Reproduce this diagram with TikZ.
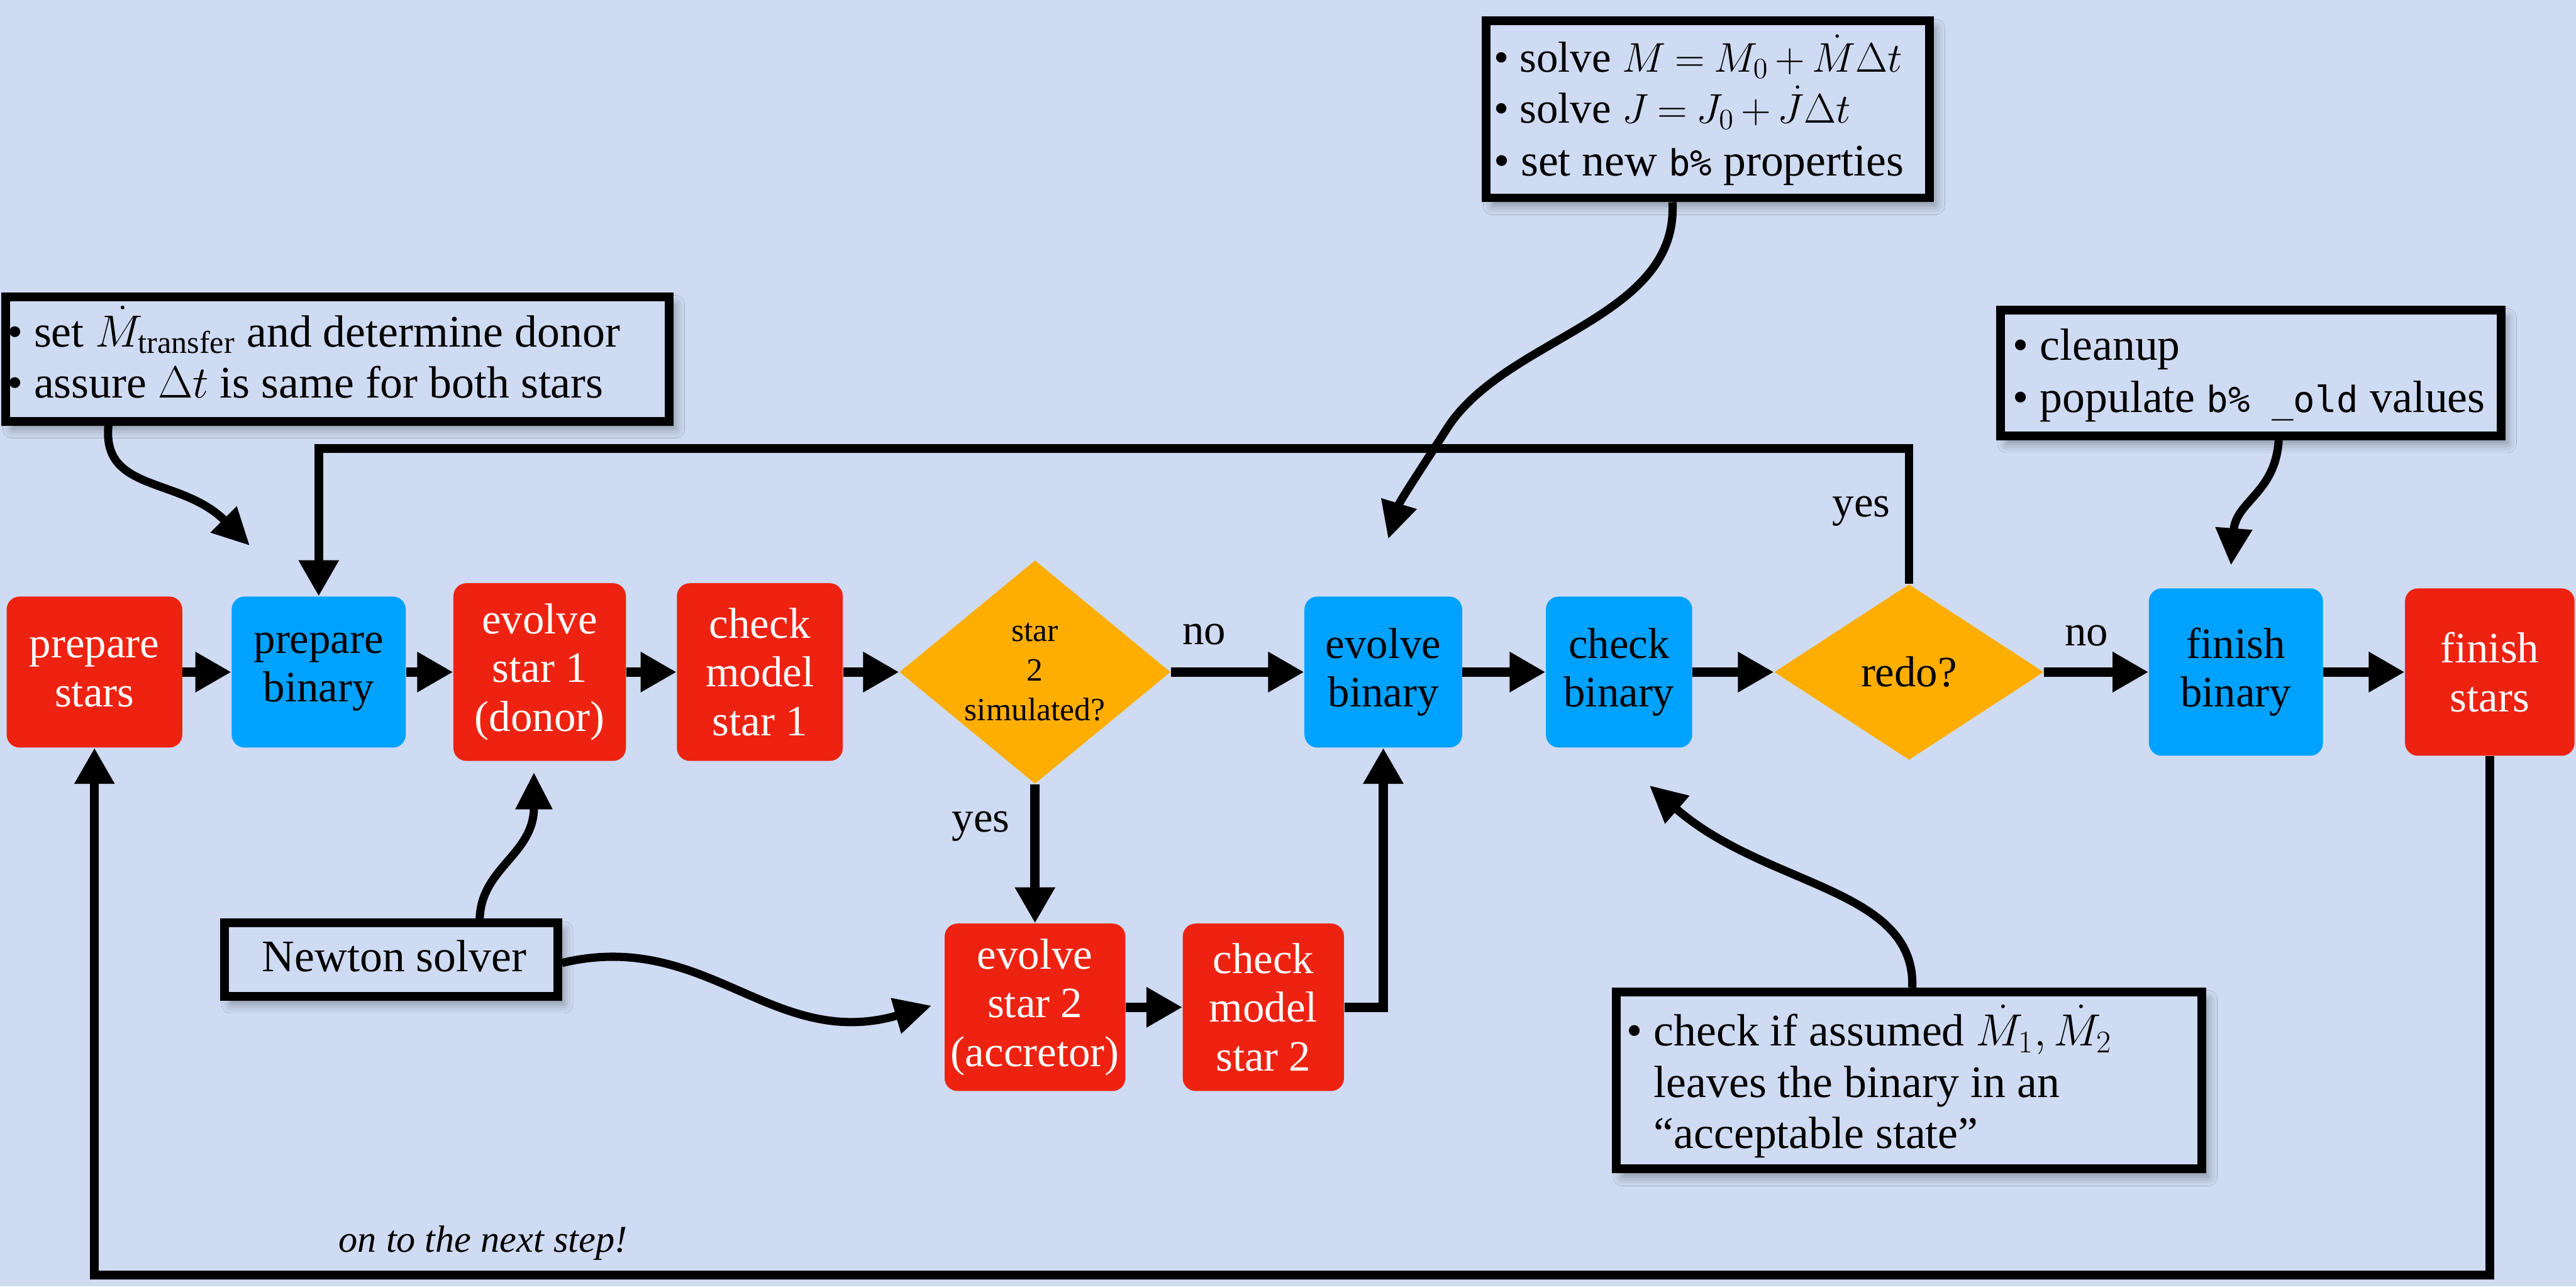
\RequirePackage{fix-cm}
\documentclass[tikz,border=0pt]{standalone}
\usepackage{amsmath}
\usepackage{fontspec}
\setmainfont{Liberation Serif}
\setmonofont[Scale=0.8]{DejaVu Sans Mono}
\usetikzlibrary{arrows.meta,shapes.geometric,shadows.blur,calc}
\definecolor{bg}{RGB}{207,219,242}
\definecolor{fred}{RGB}{238,34,17}
\definecolor{fblue}{RGB}{0,162,255}
\definecolor{forange}{RGB}{255,174,0}
\tikzset{
 flow/.style={rounded corners=0.25cm, inner sep=0pt, align=center, font=\fontsize{24}{27}\selectfont},
 redbox/.style={flow, fill=fred, text=white},
 bluebox/.style={flow, fill=fblue, text=black},
 decision/.style={diamond, fill=forange, inner sep=0pt, aspect=1.2, align=center},
 note/.style={draw=black, line width=0.17cm, fill=bg, inner sep=0pt,
   blur shadow={shadow xshift=0.12cm, shadow yshift=-0.15cm, shadow blur radius=0.18cm, shadow opacity=35}},
 notetext/.style={anchor=base west, inner sep=0pt, font=\fontsize{25}{28}\selectfont},
 lab/.style={inner sep=0pt, font=\fontsize{24}{27}\selectfont},
 arr/.style={line width=0.19cm, -{Triangle[length=0.7cm,width=0.74cm]}},
 loopline/.style={line width=0.17cm, -{Triangle[length=0.7cm,width=0.74cm]}},
 curvearr/.style={line width=0.16cm, -{Triangle[length=0.72cm,width=0.68cm]}},
}
\newcommand{\eqmath}[1]{{\fontsize{23}{28}\selectfont\thickmuskip=4mu\medmuskip=3mu$#1$}}
\begin{document}
\begin{tikzpicture}[x=0.032cm, y=-0.032cm]
\useasboundingbox (0,0) rectangle (1568,783);
\fill[bg] (0,0) rectangle (1568,783);

% flow nodes
\node[redbox, minimum width=3.42cm, minimum height=2.94cm] (ps) at (57.5,409) {prepare\\stars};
\node[bluebox, minimum width=3.39cm, minimum height=2.94cm] (pb) at (194,409) {prepare\\binary};
\node[redbox, minimum width=3.36cm, minimum height=3.46cm] (es1) at (328.5,409) {evolve\\star 1\\(donor)};
\node[redbox, minimum width=3.23cm, minimum height=3.46cm] (cm1) at (462.5,409) {check\\model\\star 1};
\node[decision, minimum width=5.28cm, minimum height=4.35cm, font=\fontsize{18}{22}\selectfont] (d1) at (630,409) {star\\2\\simulated?};
\node[bluebox, minimum width=3.07cm, minimum height=2.94cm] (eb) at (842,409) {evolve\\binary};
\node[bluebox, minimum width=2.85cm, minimum height=2.94cm] (cb) at (985.5,409) {check\\binary};
\node[decision, minimum width=5.25cm, minimum height=3.42cm, font=\fontsize{24}{27}\selectfont] (d2) at (1162,409) {redo?};
\node[bluebox, minimum width=3.39cm, minimum height=3.26cm] (fb) at (1361,409) {finish\\binary};
\node[redbox, minimum width=3.3cm, minimum height=3.26cm] (fs) at (1515.5,409) {finish\\stars};
\node[redbox, minimum width=3.52cm, minimum height=3.26cm] (es2) at (630,613) {evolve\\star 2\\(accretor)};
\node[redbox, minimum width=3.14cm, minimum height=3.26cm] (cm2) at (769,613) {check\\model\\star 2};

% labels
\node[lab] (lno1) at (733,386) {no};
\node[lab] (lyes1) at (597,503) {yes};
\node[lab] (lyes2) at (1133,311) {yes};
\node[lab] (lno2) at (1270,387) {no};
\node[anchor=base west, inner sep=0pt, font=\itshape\fontsize{21}{24}\selectfont] (next) at (206,762) {on to the next step!};

% straight connectors
\draw[arr] (ps.east) -- (pb.west);
\draw[arr] (pb.east) -- (es1.west);
\draw[arr] (es1.east) -- (cm1.west);
\draw[arr] (cm1.east) -- (d1.west);
\draw[arr] (d1.east) -- (eb.west);
\draw[arr] (eb.east) -- (cb.west);
\draw[arr] (cb.east) -- (d2.west);
\draw[arr] (d2.east) -- (fb.west);
\draw[arr] (fb.east) -- (fs.west);
\draw[arr] (d1.south) -- (es2.north);
\draw[arr] (es2.east) -- (cm2.west);
\draw[arr] (cm2.east) -| (eb.south);
\draw[loopline] (d2.north) -- (d2.north |- 0,273) -| (pb.north);
\draw[loopline] (fs.south) -- (fs.south |- 0,776) -| (ps.south);

% annotation boxes
\node[note, minimum width=12.92cm, minimum height=2.42cm] (b1) at (205.5,218.5) {};
\node[notetext] (b1a) at (4,211) {\textbullet\ set $\dot M_{\text{transfer}}$ and determine donor};
\node[notetext] (b1b) at (4,242) {\textbullet\ assure $\Delta t$ is same for both stars};

\node[note, minimum width=8.63cm, minimum height=3.45cm] (b2) at (1039.5,66.5) {};
\node[notetext, font=\fontsize{24}{28}\selectfont] (b2a) at (909,44) {\textbullet\ solve \eqmath{M = M_0 + \dot M \Delta t}};
\node[notetext, font=\fontsize{24}{28}\selectfont] (b2b) at (909,75) {\textbullet\ solve \eqmath{J = J_0 + \dot J \Delta t}};
\node[notetext] (b2c) at (909,107) {\textbullet\ set new \texttt{b\%} properties};

\node[note, minimum width=9.75cm, minimum height=2.45cm] (b3) at (1370,227) {};
\node[notetext] (b3a) at (1225,219) {\textbullet\ cleanup};
\node[notetext] (b3b) at (1225,251) {\textbullet\ populate \texttt{b\% \_old} values};

\node[note, minimum width=11.41cm, minimum height=3.45cm] (b4) at (1162,657.5) {};
\node[notetext] (b4a) at (990,636.5) {\textbullet\ check if assumed $\dot M_1, \dot M_2$};
\node[notetext] (b4b) at (990,668) {\phantom{\textbullet\ }leaves the binary in an};
\node[notetext] (b4c) at (990,699) {\phantom{\textbullet\ }``acceptable state''};

\node[note, minimum width=6.49cm, minimum height=1.43cm] (b5) at (238,584) {};
\node[inner sep=0pt, font=\fontsize{25}{28}\selectfont] (b5t) at (240,582) {Newton solver};

% curved connectors
\coordinate (c1e) at (152,332);
\coordinate (c2e) at (845,328);
\coordinate (c3e) at (1358,344);
\coordinate (c4e) at (1004,478);
\coordinate (c5e) at (325,470);
\coordinate (c6e) at (567,612);
\draw[curvearr] (b1.south -| 66,0) .. controls (62,300) and (110,290) .. (c1e);
\draw[curvearr] (b2.south -| 1018,0) .. controls (1022,195) and (915,205) .. (880,262) .. controls (862,290) and (852,305) .. (c2e);
\draw[curvearr] (b3.south -| 1387,0) .. controls (1385,300) and (1361,305) .. (c3e);
\draw[curvearr] (b4.north -| 1164,0) .. controls (1166,540) and (1075,540) .. (c4e);
\draw[curvearr] (b5.north -| 292,0) .. controls (293,528) and (325,520) .. (c5e);
\draw[curvearr] (b5.east |- 0,586) .. controls (430,565) and (470,640) .. (c6e);
\end{tikzpicture}
\end{document}
